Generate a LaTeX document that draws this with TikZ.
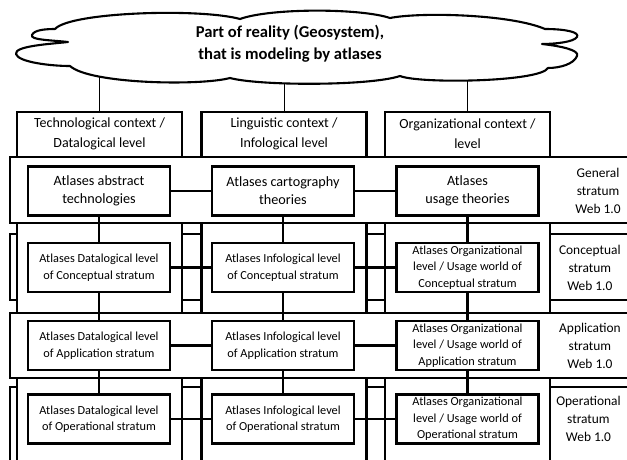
\documentclass[tikz,border=0pt]{standalone}
\usepackage{fontspec}
\setmainfont{Carlito}
\usetikzlibrary{backgrounds}

\begin{document}
\begin{tikzpicture}[x=1pt, y=-1pt, line width=2.1pt, every text node part/.style={align=center},
  column/.style={draw, fill=white, minimum width=165, minimum height=360, anchor=north, inner sep=0pt},
  band/.style={draw, fill=white},
  cell/.style={draw, fill=white, line width=2.5pt, minimum width=142, minimum height=49, inner sep=0pt, font=\fontsize{12.3}{16.5}\selectfont},
  topcell/.style={cell, font=\fontsize{14.2}{18}\selectfont},
  context/.style={font=\fontsize{14}{20}\selectfont},
  stratum/.style={anchor=east, align=right, font=\fontsize{13.4}{18}\selectfont}]
\clip (0,0) rectangle (627,459);
\draw[fill=white, line join=round]
  (68,42) .. controls (50,40) and (30,40) .. (32,35) .. controls (34,30) and (45,29) .. (55,29)
  .. controls (70,12) and (200,8) .. (240,19) .. controls (270,8) and (360,8) .. (390,18)
  .. controls (420,12) and (510,14) .. (545,29)
  .. controls (565,29) and (580,32) .. (577,37) .. controls (574,42) and (555,44) .. (542,44)
  .. controls (560,46) and (580,50) .. (577,56) .. controls (574,64) and (560,68) .. (548,68)
  .. controls (540,82) and (420,84) .. (400,76) .. controls (370,86) and (260,86) .. (230,78)
  .. controls (200,86) and (90,84) .. (70,66)
  .. controls (50,66) and (18,62) .. (16,54) .. controls (14,46) and (50,44) .. cycle;
\node[font=\bfseries\fontsize{16.6}{22}\selectfont] (reality) at (290,44) {Part of reality (Geosystem),\\that is modeling by atlases};
\draw[band] (10,234) rectangle (640,300);
\draw[band] (10,387) rectangle (640,480);
\draw
  node (col1) at (99.5,111)[column]{}
  node (col2) at (284,111)[column]{}
  node (col3) at (467.5,111)[column]{}
  node (ctx1) at (99.5,134)[context]{Technological context /\\Datalogical level}
  node (ctx2) at (284,134)[context]{Linguistic context /\\Infological level}
  node (ctx3) at (467.5,134)[context]{Organizational context /\\level};
\draw[band] (10,157) rectangle (640,223);
\draw[band] (10,313) rectangle (640,378);
\draw
  node (g1) at (99,191)[topcell]{Atlases abstract\\technologies}
  node (g2) at (283,191)[topcell]{Atlases cartography\\theories}
  node (g3) at (467.5,191)[topcell]{Atlases\\usage theories}
  node (c1) at (99,267.5)[cell]{Atlases Datalogical level\\of Conceptual stratum}
  node (c2) at (283,267.5)[cell]{Atlases Infological level\\of Conceptual stratum}
  node (c3) at (467.5,267.5)[cell]{Atlases Organizational\\level / Usage world of\\Conceptual stratum}
  node (a1) at (99,345.5)[cell]{Atlases Datalogical level\\of Application stratum}
  node (a2) at (283,345.5)[cell]{Atlases Infological level\\of Application stratum}
  node (a3) at (467.5,345.5)[cell]{Atlases Organizational\\level / Usage world of\\Application stratum}
  node (o1) at (99,419)[cell]{Atlases Datalogical level\\of Operational stratum}
  node (o2) at (283,419)[cell]{Atlases Infological level\\of Operational stratum}
  node (o3) at (467.5,419)[cell]{Atlases Organizational\\level / Usage world of\\Operational stratum}
  node (sg) at (625,191)[stratum]{General\\stratum\\Web 1.0}
  node (sc) at (625,267.5)[stratum]{Conceptual\\stratum\\Web 1.0}
  node (sa) at (625,345.5)[stratum]{Application\\stratum\\Web 1.0}
  node (so) at (625,419)[stratum]{Operational\\stratum\\Web 1.0};
\foreach \r in {g,c,a,o}
  \draw (\r1) -- (\r2) -- (\r3);
\foreach \i in {1,2,3}
  \draw (g\i) -- (c\i) -- (a\i) -- (o\i);
\begin{scope}[on background layer]
\foreach \i in {1,2,3}
  \draw (col\i.north) -- (col\i.north |- reality.center);
\end{scope}
\end{tikzpicture}
\end{document}
